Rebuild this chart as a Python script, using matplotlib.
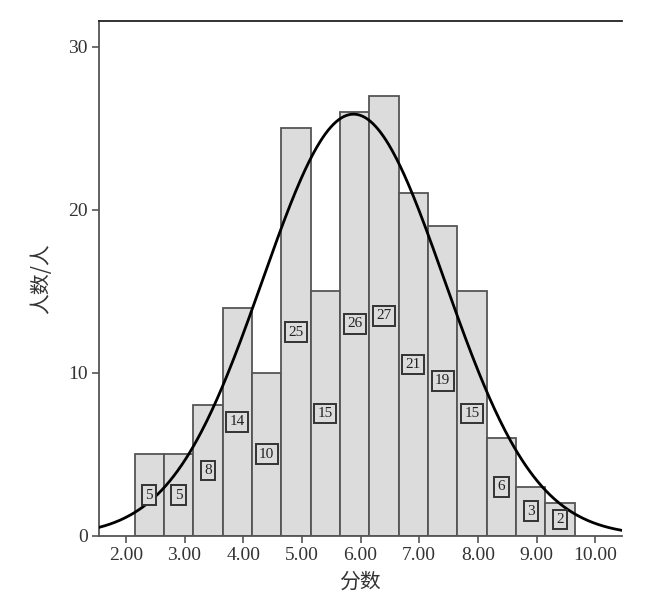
import numpy as np
import matplotlib
matplotlib.use("Agg")
import matplotlib.pyplot as plt

# 分数分布直方图 + 正态曲线
bin_edges = [2.15, 2.65, 3.15, 3.65, 4.15, 4.65, 5.15, 5.65,
             6.15, 6.65, 7.15, 7.65, 8.15, 8.65, 9.15, 9.65]
counts = [5, 5, 8, 14, 10, 25, 15, 26, 27, 21, 19, 15, 6, 3, 2]
curve_mean = 5.88
curve_sd = 1.55
x_ticks = [2, 3, 4, 5, 6, 7, 8, 9, 10]
x_ticklabels = ["2.00", "3.00", "4.00", "5.00", "6.00", "7.00", "8.00", "9.00", "10.00"]
y_ticks = [0, 10, 20, 30]

BAR_FACE = "#dcdcdc"
EDGE = "#555555"
TEXT = "#333333"
CJK = ["Noto Sans CJK SC", "DejaVu Sans"]

fig = plt.figure(figsize=(6.61, 6.02), dpi=100)
ax = fig.add_axes([0.150, 0.110, 0.7905, 0.8556])

edges = np.array(bin_edges)
widths = np.diff(edges)
ax.bar(edges[:-1], counts, width=widths, align="edge",
       color=BAR_FACE, edgecolor=EDGE, linewidth=1.3, zorder=2)

# 柱内数值框
for left, w, c in zip(edges[:-1], widths, counts):
    ax.text(left + w / 2, c / 2, str(c), ha="center", va="center",
            fontsize=11, family="Liberation Serif", color="#222222", zorder=4,
            bbox=dict(boxstyle="square,pad=0.22", facecolor=BAR_FACE,
                      edgecolor="#333333", linewidth=1.4))

# 正态曲线 (按 N * 组距 缩放)
n_total = sum(counts)
bw = widths.mean()
xs = np.linspace(1.545, 10.45, 400)
ys = n_total * bw / (curve_sd * np.sqrt(2 * np.pi)) * np.exp(-0.5 * ((xs - curve_mean) / curve_sd) ** 2)
ax.plot(xs, ys, color="black", linewidth=2.0, zorder=3)

ax.set_xlim(1.545, 10.45)
ax.set_ylim(0, 31.6)
ax.set_xticks(x_ticks)
ax.set_xticklabels(x_ticklabels)
ax.set_yticks(y_ticks)
ax.tick_params(direction="out", length=5, width=1.2, color=EDGE,
               labelsize=14, labelcolor=TEXT, pad=3)
for lbl in ax.get_xticklabels() + ax.get_yticklabels():
    lbl.set_family("Liberation Serif")

for side in ["left", "bottom", "top"]:
    ax.spines[side].set_color(EDGE)
    ax.spines[side].set_linewidth(1.3)
ax.spines["top"].set_color("#222222")
ax.spines["right"].set_visible(False)

ax.set_xlabel("分数", fontsize=15, family=CJK, color=TEXT, labelpad=5)
ax.set_ylabel("人数/人", fontsize=15, family=CJK, color=TEXT, labelpad=12)

fig.savefig("out.png", dpi=100)
plt.close(fig)
